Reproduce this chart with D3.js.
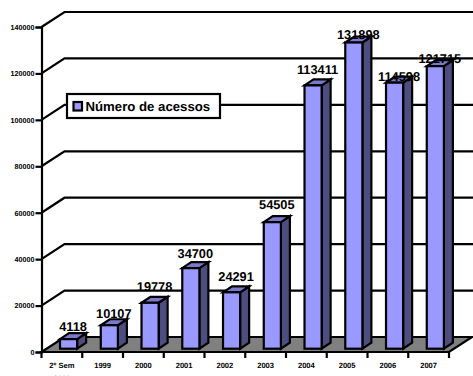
<!DOCTYPE html>
<html><head><meta charset="utf-8">
<script src="https://cdn.jsdelivr.net/npm/d3@7/dist/d3.min.js"></script>
<style>html,body{margin:0;padding:0;background:#fff;overflow:hidden}svg{display:block;opacity:.999}text{font-family:"Liberation Sans",Arial,sans-serif;font-weight:bold;fill:#000;text-rendering:geometricPrecision}</style>
</head><body><svg id="c" width="473" height="376"></svg>
<script>
const categories = ["2º Sem 1999","1999","2000","2001","2002","2003","2004","2005","2006","2007"];
const values = [4118,10107,19778,34700,24291,54505,113411,131898,114598,121715];
const yTicks = [0,20000,40000,60000,80000,100000,120000,140000];
const seriesName = "Número de acessos";
// gap between bar top and its value label
const labelGap = [8,7,11.7,10,11.6,12.7,11,4,2,3];

const svg = d3.select("#c");
const L=41.5,R=449,B=352,T=27,DX=23,DY=-15,dx=9,dy=-6;
const x = d3.scaleBand().domain(categories).range([L,R]).paddingInner(0.58).paddingOuter(0.29);
const band = d3.scaleBand().domain(categories).range([L,R]);
const y = d3.scaleLinear().domain([0,140000]).range([B,T]);
const lift = 3.3; // bars stand slightly inside the floor
const K=2.2;

// floor
svg.append("path").attr("d",`M${L},${B}L${L+DX},${B+DY}L${R+DX},${B+DY}L${R},${B}Z`)
  .attr("fill","#808080").attr("stroke","#000").attr("stroke-width",K);
// grid
svg.append("g").selectAll("path").data(yTicks.slice(1)).join("path")
  .attr("d",d=>`M${L},${y(d)}L${L+DX},${y(d)+DY}L473,${y(d)+DY}`)
  .attr("fill","none").attr("stroke","#000").attr("stroke-width",K);
// axes
const gy = svg.append("g").attr("transform",`translate(${L},0)`)
  .call(d3.axisLeft(y).tickValues(yTicks).tickFormat(d3.format("d")).tickSize(6).tickPadding(1));
gy.select(".domain").attr("stroke-width",K);
gy.selectAll("line").attr("stroke-width",K);
gy.selectAll("text").style("font-size","7.2px");
const gx = svg.append("g").attr("transform",`translate(0,${B})`);
gx.append("path").attr("d",`M${L},0H${R}`).attr("stroke","#000").attr("stroke-width",K);
gx.selectAll("line").data(d3.range(categories.length+1)).join("line")
  .attr("x1",i=>L+i*band.step()).attr("x2",i=>L+i*band.step()).attr("y1",0).attr("y2",6)
  .attr("stroke","#000").attr("stroke-width",K);
const cats = gx.selectAll("text").data(categories).join("text")
  .attr("text-anchor","middle").style("font-size","7.6px")
  .attr("transform",d=>`translate(${band(d)+band.bandwidth()/2},0)`);
cats.each(function(d){
  const t=d3.select(this);
  const parts=d.startsWith("2º")?["2º Sem","1999"]:[d];
  parts.forEach((p,i)=>t.append("tspan").attr("x",0).attr("y",15.7+i*13).text(p));
});

// bars
const by = v=>y(v)-lift;
const bx = d=>x(d)+6.7;
const g = svg.append("g").selectAll("g").data(categories.map((c,i)=>({c,v:values[i],gap:labelGap[i]}))).join("g");
const bar = {fill:"#9999ff",side:"#4d4d80",top:"#7a7acc"};
g.append("path").attr("d",d=>{const a=bx(d.c)+x.bandwidth(),t=by(d.v),b=by(0);
  return `M${a},${t}L${a+dx},${t+dy}L${a+dx},${b+dy}L${a},${b}Z`;}).attr("fill",bar.side);
g.append("path").attr("d",d=>{const a=bx(d.c),w=x.bandwidth(),t=by(d.v);
  return `M${a},${t}L${a+dx},${t+dy}L${a+w+dx},${t+dy}L${a+w},${t}Z`;}).attr("fill",bar.top);
g.append("rect").attr("x",d=>bx(d.c)).attr("y",d=>by(d.v)).attr("width",x.bandwidth())
  .attr("height",d=>by(0)-by(d.v)).attr("fill",bar.fill);
g.selectAll("path,rect").attr("stroke","#000").attr("stroke-width",K).attr("stroke-linejoin","miter");
g.append("text").attr("text-anchor","middle").style("font-size","12.8px")
  .attr("x",d=>bx(d.c)+x.bandwidth()/2+dx/2).attr("y",d=>by(d.v)-d.gap).text(d=>d.v);

// legend
const lg = svg.append("g");
lg.append("rect").attr("x",67).attr("y",94).attr("width",153).attr("height",24)
  .attr("fill","#fff").attr("stroke","#000").attr("stroke-width",K);
lg.append("rect").attr("x",73.5).attr("y",102).attr("width",8.5).attr("height",8.5)
  .attr("fill",bar.fill).attr("stroke","#000").attr("stroke-width",K);
lg.append("text").attr("x",85.5).attr("y",111).style("font-size","13.2px").text(seriesName);
</script></body></html>
